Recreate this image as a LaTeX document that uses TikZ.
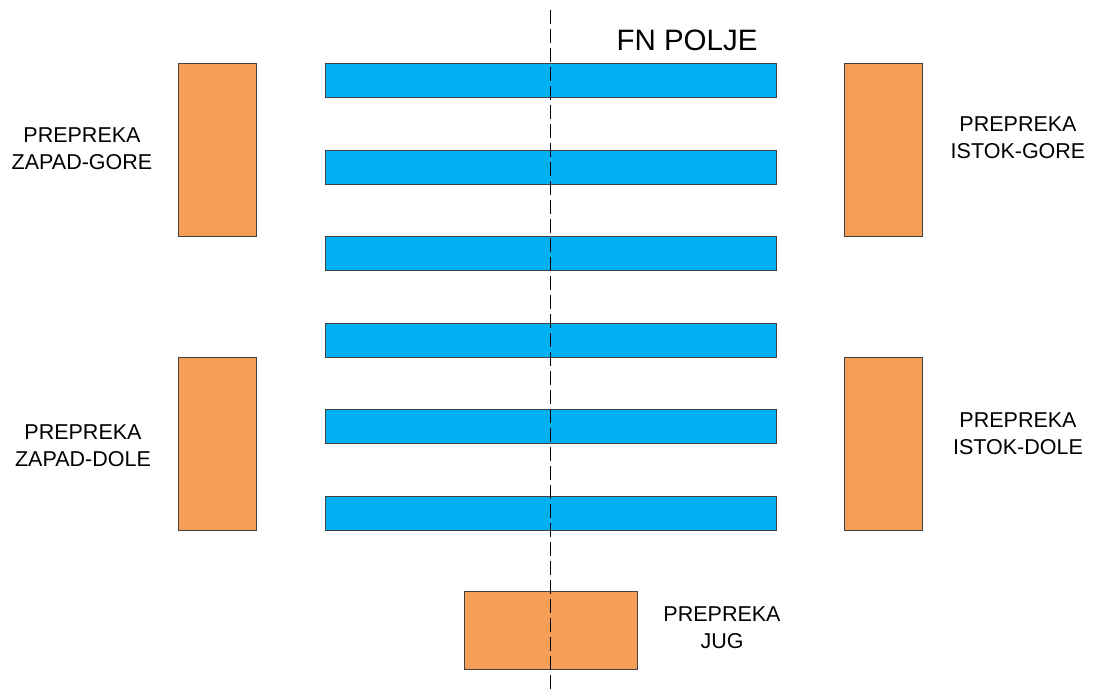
\documentclass[tikz,border=0pt]{standalone}
\usepackage{fontspec}
\setmainfont{Liberation Sans}
\definecolor{barblue}{HTML}{00B0F0}
\definecolor{obst}{HTML}{F59E58}
\definecolor{edge}{HTML}{404040}
\begin{document}
\begin{tikzpicture}[x=1pt,y=-1pt,
  bar/.style={draw=edge,line width=0.9pt,fill=barblue,inner sep=0pt,minimum width=451pt,minimum height=34pt},
  obstv/.style={draw=edge,line width=0.9pt,fill=obst,inner sep=0pt,minimum width=78pt,minimum height=173pt},
  obsth/.style={draw=edge,line width=0.9pt,fill=obst,inner sep=0pt,minimum width=173pt,minimum height=78pt},
  lbl/.style={align=center,font=\fontsize{21.5}{27}\selectfont,inner sep=0pt},
  axis/.style={line width=0.9pt,dash pattern=on 14pt off 5pt}]
\useasboundingbox (0,0) rectangle (1093,695);
\foreach \i/\y in {1/80,2/167,3/253,4/340,5/426,6/513}
  \node[bar] (b\i) at (550.5,\y) {};
\node[obstv] (wg) at (217.5,149.5) {};
\node[obstv] (wd) at (217.5,443.5) {};
\node[obstv] (eg) at (883.5,149.5) {};
\node[obstv] (ed) at (883.5,443.5) {};
\node[obsth] (s) at (550.5,630) {};
\coordinate (ax1) at (550,10);
\coordinate (ax2) at (550,690);
\draw[axis] (ax1) -- (ax2);
\node[font=\fontsize{29.5}{32}\selectfont,inner sep=0pt] (fn) at (687,40) {FN POLJE};
\node[lbl] (lwg) at (82,149) {PREPREKA\\ZAPAD-GORE};
\node[lbl] (lwd) at (83,446) {PREPREKA\\ZAPAD-DOLE};
\node[lbl] (leg) at (1018,138) {PREPREKA\\ISTOK-GORE};
\node[lbl] (led) at (1018,434) {PREPREKA\\ISTOK-DOLE};
\node[lbl] (ls) at (722,628) {PREPREKA\\JUG};
\end{tikzpicture}
\end{document}
